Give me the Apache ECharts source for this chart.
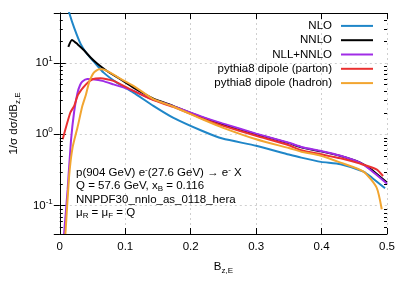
<!DOCTYPE html>
<html><head><meta charset="utf-8">
<script src="https://cdn.jsdelivr.net/npm/echarts@6/dist/echarts.min.js"></script>
<style>html,body{margin:0;padding:0;background:#fff}#c{width:407px;height:285px}</style>
</head><body><div id="c"></div>
<script>
// ---- data ----
const xTicks = [0, 0.1, 0.2, 0.3, 0.4, 0.5];
const minorTicks = [0.05,0.06,0.07,0.08,0.09,0.2,0.3,0.4,0.5,0.6,0.7,0.8,0.9,2,3,4,5,6,7,8,9,20,30,40];

const nloB = [0.012,0.0145,0.022,0.032,0.042,0.052,0.067,0.087,0.1125,0.143,0.173,0.218,0.2486,0.3,0.35,0.369,0.399,0.429,0.464,0.477,0.497];
const nloV = [64,50,31,18.3,13.2,10.4,7.3,5.3,3.83,2.5,1.71,1.11,0.87,0.69,0.52,0.47,0.41,0.38,0.30,0.246,0.175];

const nnloB = [0.013,0.0185,0.027,0.037,0.047,0.057,0.072,0.0925,0.1125,0.143,0.173,0.218,0.2486,0.3,0.35,0.369,0.399,0.429,0.459,0.474,0.5];
const nnloV = [16.8,21,18.3,15,11.9,9.8,7.7,5.9,4.5,3.15,2.5,1.72,1.38,1.0,0.75,0.655,0.575,0.495,0.40,0.33,0.21];

const nllB = [0.0065,0.012,0.017,0.022,0.027,0.031,0.0345,0.042,0.05,0.065,0.082,0.1125,0.143,0.173,0.218,0.2486,0.3,0.35,0.369,0.399,0.429,0.459,0.474,0.5];
const nllV = [0.04,0.17,0.8,2.1,3.8,4.9,5.5,5.95,5.9,5.6,5.0,4.05,3.05,2.48,1.75,1.42,1.02,0.76,0.664,0.583,0.50,0.40,0.32,0.203];

const partonB = [0.0044,0.016,0.022,0.028,0.04,0.05,0.062,0.082,0.1125,0.143,0.173,0.218,0.2486,0.3,0.35,0.369,0.399,0.429,0.459,0.484,0.494];
const partonV = [0.85,2.0,2.5,3.6,5.0,5.9,6.1,5.6,4.05,3.0,2.42,1.65,1.32,0.95,0.70,0.596,0.524,0.46,0.387,0.323,0.26];

const hadronB = [0.0085,0.0095,0.0145,0.0195,0.027,0.0345,0.04,0.0447,0.052,0.06,0.065,0.0925,0.1125,0.143,0.173,0.218,0.2486,0.3,0.35,0.369,0.399,0.429,0.464,0.484,0.492];
const hadronV = [0.04,0.055,0.275,0.65,1.24,2.5,3.6,5.3,7.3,8.15,8.15,6.0,4.77,3.1,2.45,1.62,1.24,0.85,0.64,0.57,0.50,0.40,0.30,0.18,0.089];

const names = ['NLO','NNLO','NLL+NNLO','pythia8 dipole (parton)','pythia8 dipole (hadron)'];
const colors = ['#1f86c8','#000000','#a02ce6','#ea3030','#f2a530'];
const xs = [nloB, nnloB, nllB, partonB, hadronB];
const ys = [nloV, nnloV, nllV, partonV, hadronV];

const FONT = 'Liberation Sans';
const FS = 11.5;

const chart = echarts.init(document.getElementById('c'));
const pair = (a, b) => a.map((v, i) => [v, b[i]]);

function isPow10(v){ const l = Math.log10(v); return Math.abs(l - Math.round(l)) < 1e-6; }

const series = names.map((n, i) => ({
  name: n, type: 'line', data: pair(xs[i], ys[i]), symbol: 'none', smooth: 0.2,
  lineStyle: { color: colors[i], width: 2 }, itemStyle: { color: colors[i] }, clip: true, z: 3 + i
}));
series.push({
  type: 'custom', silent: true, z: 10,
  data: minorTicks.map(v => [0, v]),
  encode: { x: 0, y: 1 },
  renderItem: function (params, api) {
    const cs = params.coordSys;
    const y = Math.round(api.coord([0, api.value(1)])[1]) + 0.5;
    const st = { stroke: '#000', lineWidth: 1 };
    return { type: 'group', children: [
      { type: 'line', shape: { x1: cs.x, y1: y, x2: cs.x + 3, y2: y }, style: st },
      { type: 'line', shape: { x1: cs.x + cs.width - 3, y1: y, x2: cs.x + cs.width, y2: y }, style: st }
    ]};
  }
});

const yAxisBase = {
  type: 'log', logBase: 10, min: 0.04, max: 50,
  axisLine: { show: true, lineStyle: { color: '#000', width: 1 } },
  axisTick: { show: true, inside: true, length: 6, lineStyle: { color: '#000' } },
};

chart.setOption({
  animation: false,
  textStyle: { fontFamily: FONT },
  grid: { left: 55, right: 20, top: 13, bottom: 51 },
  legend: {
    data: names, orient: 'vertical', right: 34, top: 19, align: 'right',
    icon: 'rect', itemWidth: 32, itemHeight: 2, itemGap: 0.5, padding: 0,
    textStyle: { fontFamily: FONT, fontSize: FS, color: '#000', padding: [0, 4, 0, 0], lineHeight: 13.8 }
  },
  xAxis: [{
    type: 'value', min: 0, max: 0.5, interval: 0.1,
    name: '{t|B}{s|z,E}', nameLocation: 'middle', nameGap: 25,
    nameTextStyle: { rich: { t: { fontFamily: FONT, fontSize: FS, color: '#000', lineHeight: 16, verticalAlign: 'middle' },
                              s: { fontFamily: FONT, fontSize: 8, color: '#000', lineHeight: 16, verticalAlign: 'bottom' } } },
    axisLine: { show: true, lineStyle: { color: '#000', width: 1 } },
    axisTick: { show: true, inside: true, length: 6, lineStyle: { color: '#000' } },
    axisLabel: { fontFamily: FONT, fontSize: FS, color: '#000', margin: 7,
                 formatter: v => (xTicks.indexOf(Math.round(v*10)/10) >= 0 ? String(Math.round(v*10)/10) : '') },
    splitLine: { show: true, lineStyle: { color: '#cfcfcf', type: [2, 3], width: 1 } }
  }, {
    type: 'value', min: 0, max: 0.5, interval: 0.1, position: 'top',
    axisLine: { show: true, lineStyle: { color: '#000', width: 1 } },
    axisTick: { show: true, inside: true, length: 6, lineStyle: { color: '#000' } },
    axisLabel: { show: false }, splitLine: { show: false }
  }],
  yAxis: [Object.assign({}, yAxisBase, {
    position: 'left',
    name: '{t|1/σ dσ/dB}{s|z,E}', nameLocation: 'middle', nameRotate: 90, nameGap: 31,
    nameTextStyle: { rich: { t: { fontFamily: FONT, fontSize: FS, color: '#000', lineHeight: 16, verticalAlign: 'middle' },
                              s: { fontFamily: FONT, fontSize: 8, color: '#000', lineHeight: 16, verticalAlign: 'bottom' } } },
    axisLabel: { margin: 7, formatter: v => isPow10(v) ? '{b|10}{p|' + Math.round(Math.log10(v)) + '}' : '',
      rich: { b: { fontFamily: FONT, fontSize: FS, color: '#000', lineHeight: 16, verticalAlign: 'middle' },
              p: { fontFamily: FONT, fontSize: 8, color: '#000', lineHeight: 16, verticalAlign: 'top' } } },
    splitLine: { show: true, lineStyle: { color: '#cfcfcf', type: [2, 3], width: 1 } }
  }), Object.assign({}, yAxisBase, {
    position: 'right', axisLabel: { show: false }, splitLine: { show: false }
  })],
  graphic: [{
    type: 'text', left: 76, top: 166, z: 20,
    style: {
      text: '{t|p(904 GeV) e}{p|-}{t|(27.6 GeV) → e}{p|-}{t| X}\n{t|Q = 57.6 GeV, x}{s|B}{t| = 0.116}\n{t|NNPDF30_nnlo_as_0118_hera}\n{t|μ}{s|R}{t| = μ}{s|F}{t| = Q}',
      rich: {
        t: { fontFamily: FONT, fontSize: FS, fill: '#000', lineHeight: 13.5, verticalAlign: 'middle' },
        p: { fontFamily: FONT, fontSize: 8, fill: '#000', lineHeight: 13.5, verticalAlign: 'top' },
        s: { fontFamily: FONT, fontSize: 8, fill: '#000', lineHeight: 13.5, verticalAlign: 'bottom' }
      }
    }
  }],
  series: series
});
</script></body></html>
